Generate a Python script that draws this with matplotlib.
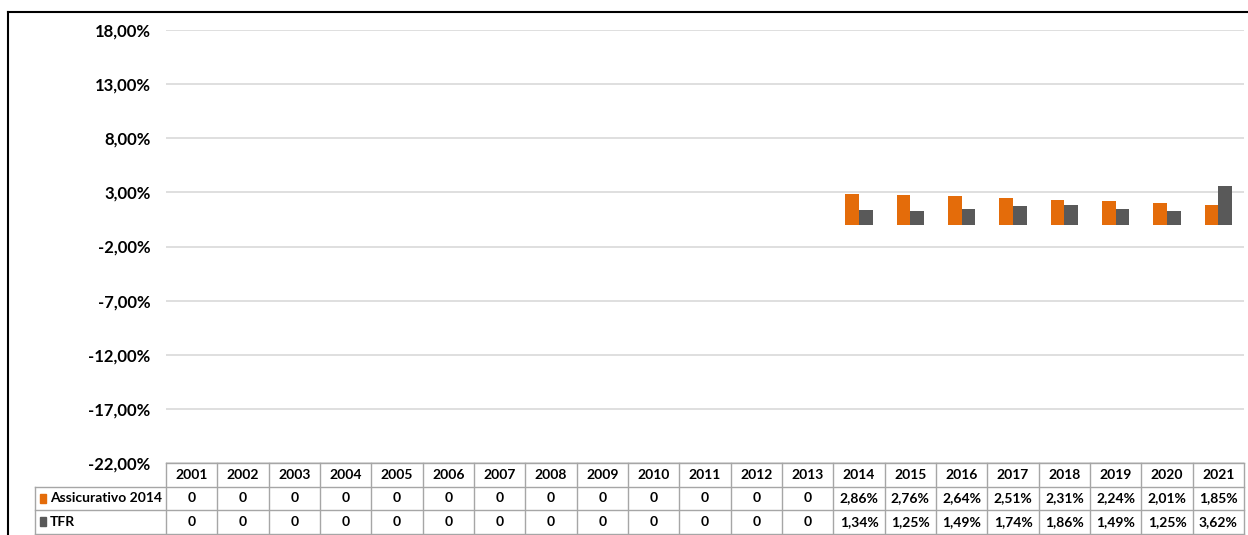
import numpy as np
import matplotlib.pyplot as plt
from matplotlib.lines import Line2D
from matplotlib.patches import Rectangle
import matplotlib.transforms as mtransforms

# data
years = [str(y) for y in range(2001, 2022)]
assicurativo = [0] * 13 + [2.86, 2.76, 2.64, 2.51, 2.31, 2.24, 2.01, 1.85]
tfr = [0] * 13 + [1.34, 1.25, 1.49, 1.74, 1.86, 1.49, 1.25, 3.62]
series_names = ['Assicurativo 2014', 'TFR']
yticks = [18, 13, 8, 3, -2, -7, -12, -17, -22]

orange = '#E46C0A'
gray = '#595959'
grid_c = '#D9D9D9'
line_c = '#A6A6A6'

plt.rcParams['font.family'] = ['Lato', 'DejaVu Sans']

W, H = 1248, 535
fig = plt.figure(figsize=(W / 100, H / 100), dpi=100)

# axes placed in pixels
left, right, top, bottom = 166, 1244, 30, 463
ax = fig.add_axes([left / W, 1 - bottom / H, (right - left) / W, (bottom - top) / H])

x = np.arange(len(years))
bw = 0.263
ax.bar(x - bw / 2, assicurativo, bw, color=orange, edgecolor='none', zorder=3)
ax.bar(x + bw / 2, tfr, bw, color=gray, edgecolor='none', zorder=3)

ax.set_xlim(-0.5, len(years) - 0.5)
ax.set_ylim(-22, 18)
ax.set_yticks(yticks)
ax.set_yticklabels([f'{v:.2f}'.replace('.', ',') + '%' for v in yticks],
                   fontsize=12, fontweight='bold')
ax.tick_params(axis='y', length=0, pad=11)
ax.set_xticks([])
ax.grid(axis='y', color=grid_c, linewidth=1.2, zorder=0)
for s in ax.spines.values():
    s.set_visible(False)

# data table under the chart
trans = mtransforms.blended_transform_factory(ax.transData, ax.transAxes)
row_h = 23.5 / (bottom - top)
label_left = -0.5 - (left - 35) / ((right - left) / len(years))


def fmt(v):
    return '0' if v == 0 else f'{v:.2f}'.replace('.', ',') + '%'


rows = [assicurativo, tfr]
lkw = dict(transform=trans, color=line_c, linewidth=1, clip_on=False)
# horizontal lines
ax.add_line(Line2D([-0.5, len(years) - 0.5], [0, 0], **lkw))
for r in range(1, 4):
    ax.add_line(Line2D([label_left, len(years) - 0.5], [-r * row_h, -r * row_h], **lkw))
# vertical lines
for i in range(len(years) + 1):
    ax.add_line(Line2D([i - 0.5, i - 0.5], [0, -3 * row_h], **lkw))
ax.add_line(Line2D([label_left, label_left], [-row_h, -3 * row_h], **lkw))

tkw = dict(transform=trans, ha='center', va='center', fontsize=10,
           fontweight='bold', clip_on=False)
for i, yr in enumerate(years):
    ax.text(i, -0.5 * row_h, yr, **tkw)
    for r, vals in enumerate(rows):
        ax.text(i, -(r + 1.5) * row_h, fmt(vals[i]), **tkw)

px = (right - left) / len(years)
for r, (name, c) in enumerate(zip(series_names, [orange, gray])):
    yc = -(r + 1.5) * row_h
    ax.add_patch(Rectangle((label_left + 5 / px, yc - 4.5 / (bottom - top)),
                           6.5 / px, 9 / (bottom - top), transform=trans,
                           color=c, clip_on=False))
    ax.text(label_left + 15 / px, yc, name, transform=trans, ha='left',
            va='center', fontsize=10, fontweight='bold', clip_on=False)

# outer frame (top and left edges visible)
fig.add_artist(Line2D([8 / W, 1], [1 - 12 / H, 1 - 12 / H], color='black',
                      linewidth=1.5, transform=fig.transFigure))
fig.add_artist(Line2D([8 / W, 8 / W], [1 - 12 / H, 0], color='black',
                      linewidth=1.5, transform=fig.transFigure))

fig.savefig('out.png', dpi=100, facecolor='white')
